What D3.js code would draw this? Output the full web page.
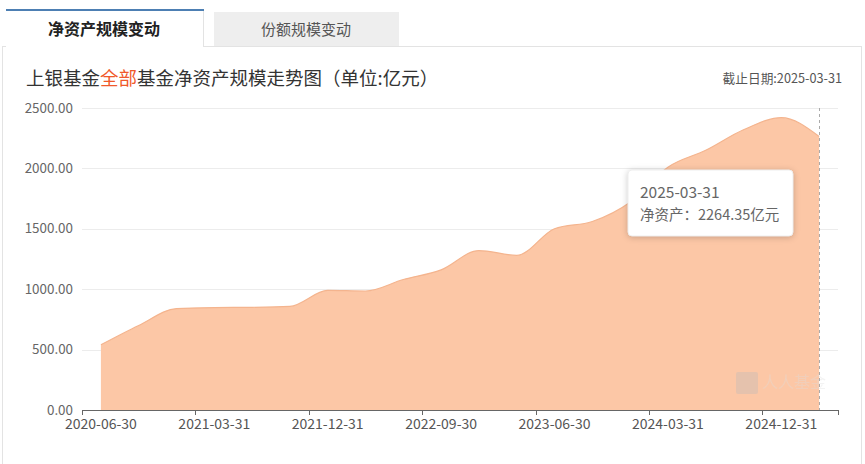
<!DOCTYPE html>
<html>
<head>
<meta charset="utf-8">
<script src="https://cdn.jsdelivr.net/npm/d3@7/dist/d3.min.js"></script>
<style>
  html, body { margin: 0; padding: 0; background: #fff; }
  svg { display: block; font-family: "Noto Sans CJK SC", "Noto Sans", sans-serif; }
</style>
</head>
<body>
<svg id="chart" width="865" height="464"></svg>
<script>
const dates = ["2020-06-30","2020-09-30","2020-12-31","2021-03-31","2021-06-30","2021-09-30",
  "2021-12-31","2022-03-31","2022-06-30","2022-09-30","2022-12-31","2023-03-31",
  "2023-06-30","2023-09-30","2023-12-31","2024-03-31","2024-06-30","2024-09-30",
  "2024-12-31","2025-03-31"];
const netAssets = [540, 700, 840, 848, 850, 858, 990, 985, 1080, 1160, 1320, 1280,
  1500, 1560, 1720, 2010, 2150, 2320, 2420, 2264.35];
const yTicks = [0, 500, 1000, 1500, 2000, 2500];
const xLabels = ["2020-06-30","2021-03-31","2021-12-31","2022-09-30","2023-06-30","2024-03-31","2024-12-31"];
const tabs = ["净资产规模变动", "份额规模变动"];

(function () {
const svg = d3.select("#chart");

// panel border
svg.append("line").attr("x1", 2.5).attr("x2", 2.5).attr("y1", 46).attr("y2", 464).attr("stroke", "#e3e3e3");
svg.append("line").attr("x1", 861.5).attr("x2", 861.5).attr("y1", 46).attr("y2", 464).attr("stroke", "#e3e3e3");
svg.append("line").attr("x1", 204).attr("x2", 862).attr("y1", 46.5).attr("y2", 46.5).attr("stroke", "#e3e3e3");

// tabs
svg.append("rect").attr("x", 6).attr("y", 10).attr("width", 198).attr("height", 37).attr("fill", "#fff");
svg.append("line").attr("x1", 6).attr("x2", 204).attr("y1", 10).attr("y2", 10).attr("stroke", "#4d7fb3").attr("stroke-width", 2);
svg.append("line").attr("x1", 2.5).attr("x2", 6).attr("y1", 46.5).attr("y2", 46.5).attr("stroke", "#e3e3e3");
svg.append("line").attr("x1", 203.5).attr("x2", 203.5).attr("y1", 11).attr("y2", 47).attr("stroke", "#e3e3e3");
svg.append("text").attr("x", 104).attr("y", 35).attr("text-anchor", "middle")
  .attr("font-size", 16).attr("font-weight", "bold").attr("fill", "#222").text(tabs[0]);
svg.append("rect").attr("x", 214).attr("y", 12).attr("width", 185).attr("height", 34).attr("fill", "#eeeeee");
svg.append("text").attr("x", 306).attr("y", 35).attr("text-anchor", "middle")
  .attr("font-size", 15).attr("fill", "#555").text(tabs[1]);

// title
const title = svg.append("text").attr("x", 26).attr("y", 85).attr("font-size", 18.5).attr("fill", "#333");
title.append("tspan").text("上银基金");
title.append("tspan").attr("fill", "#f0592a").text("全部");
title.append("tspan").text("基金净资产规模走势图（单位:亿元）");

svg.append("text").attr("x", 842).attr("y", 83).attr("text-anchor", "end")
  .attr("font-size", 12.7).attr("fill", "#555").text("截止日期:2025-03-31");

// scales
const L = 82, R = 838, T = 108, B = 410;
const x = d3.scaleBand().domain(dates).range([L, R]);
const y = d3.scaleLinear().domain([0, 2500]).range([B, T]);
const cx = d => x(d) + x.bandwidth() / 2;

// grid
svg.append("g").selectAll("line").data(yTicks.filter(v => v > 0)).join("line")
  .attr("x1", L).attr("x2", R)
  .attr("y1", d => Math.round(y(d)) + 0.5).attr("y2", d => Math.round(y(d)) + 0.5)
  .attr("stroke", "#ececec");

// y axis labels
svg.append("g").selectAll("text").data(yTicks).join("text")
  .attr("x", 73).attr("y", d => y(d) + 4.5).attr("text-anchor", "end")
  .attr("font-size", 13.4).attr("fill", "#666").text(d => d3.format(".2f")(d));

// area
const data = dates.map((d, i) => ({ d, v: netAssets[i] }));
const area = d3.area().x(p => cx(p.d)).y0(B).y1(p => y(p.v)).curve(d3.curveMonotoneX);
const line = d3.line().x(p => cx(p.d)).y(p => y(p.v)).curve(d3.curveMonotoneX);
svg.append("path").datum(data).attr("d", area).attr("fill", "#fcc7a6");
svg.append("path").datum(data).attr("d", line).attr("fill", "none").attr("stroke", "#f4b48e").attr("stroke-width", 1.2);

// watermark
const wm = svg.append("g").attr("opacity", 0.35);
wm.append("rect").attr("x", 736).attr("y", 372).attr("width", 22).attr("height", 22).attr("rx", 2).attr("fill", "#bbb");
wm.append("text").attr("x", 762).attr("y", 388).attr("font-size", 16).attr("fill", "#ddd").text("人人基金");

// dashed pointer line
const lastX = Math.round(cx(dates[dates.length - 1])) + 0.5;
svg.append("line").attr("x1", lastX).attr("x2", lastX).attr("y1", T).attr("y2", B)
  .attr("stroke", "#aaa").attr("stroke-dasharray", "3,3");

// x axis
const xAxis = d3.axisBottom(x).tickSize(5).tickValues(xLabels).tickFormat(d => d);
const gx = svg.append("g").attr("transform", `translate(0,${B})`).call(xAxis);
gx.select(".domain").attr("stroke", "#666");
gx.selectAll(".tick line").remove();
gx.selectAll(".tick text").attr("font-size", 14).attr("fill", "#555").attr("dy", "0.8em")
  .attr("font-family", "'Noto Sans CJK SC', sans-serif");
const boundaries = d3.range(0, dates.length, 3).map(i => x(dates[i])).concat([R]);
svg.append("g").selectAll("line").data(boundaries).join("line")
  .attr("x1", d => Math.round(d) + 0.5).attr("x2", d => Math.round(d) + 0.5)
  .attr("y1", B).attr("y2", B + 5).attr("stroke", "#666");

// tooltip
const last = data[data.length - 1];
const tip = svg.append("g").attr("transform", "translate(628,170)");
tip.append("rect").attr("width", 165).attr("height", 66).attr("rx", 4)
  .attr("fill", "#fff").attr("stroke", "#eee")
  .style("filter", "drop-shadow(0 1px 3px rgba(0,0,0,0.2))");
tip.append("text").attr("x", 12).attr("y", 28).attr("font-size", 15.5).attr("fill", "#666").text(last.d);
tip.append("text").attr("x", 12).attr("y", 50).attr("font-size", 14.5).attr("fill", "#666")
  .text("净资产：" + d3.format(".2f")(last.v) + "亿元");
})();
</script>
</body>
</html>
